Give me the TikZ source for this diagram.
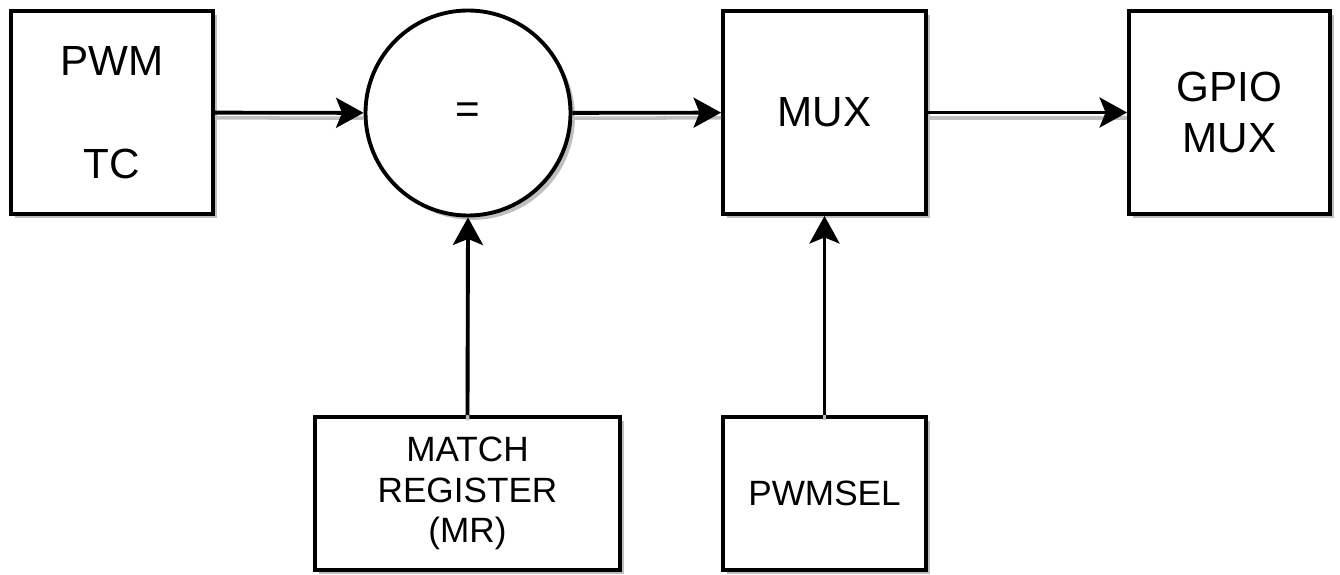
\documentclass[tikz,border=0pt]{standalone}
\usepackage{fontspec}
\setmainfont{Liberation Sans}
\usetikzlibrary{shadows,arrows.meta}

\begin{document}
\begin{tikzpicture}[
            blk/.style={draw, line width=2.2pt, fill=white, align=center,
                drop shadow={shadow xshift=2.5pt, shadow yshift=-2.5pt, fill=black!25, opacity=1}},
            big/.style={font=\fontsize{24}{29}\selectfont},
            small/.style={font=\fontsize{20}{23}\selectfont},
            wire/.style={line width=2.2pt, -{Stealth[length=0.55cm, width=0.6cm, inset=0.12cm]},
                preaction={-, draw=black!25, line width=2pt, transform canvas={yshift=-3pt}}}]
            \useasboundingbox (0, 0) rectangle (26.8, 11.48);
            \node[blk, big, minimum width=4.04cm, minimum height=4.06cm] (pwm) at (2.24, 9.23) {PWM\\[1.05cm]TC};
            \node[blk, big, circle, minimum size=4.1cm] (eq) at (9.36, 9.22) {=};
            \node[blk, big, minimum width=4.06cm, minimum height=4.06cm] (mux) at (16.49, 9.23) {MUX};
            \node[blk, big, minimum width=4.02cm, minimum height=4.06cm] (gpio) at (24.59, 9.23) {GPIO\\MUX};
            \node[blk, small, minimum width=6.1cm, minimum height=3.06cm] (mr) at (9.35, 1.61) {MATCH\\REGISTER\\(MR)};
            \node[blk, small, minimum width=4.06cm, minimum height=3.06cm] (sel) at (16.49, 1.61) {PWMSEL};
            \draw[wire] (pwm) -- (eq);
            \draw[wire] (eq) -- (mux);
            \draw[wire] (mux) -- (gpio);
            \draw[wire] (mr.north) -- (eq.south);
            \draw[wire] (sel) -- (mux);
        \end{tikzpicture}
\end{document}
